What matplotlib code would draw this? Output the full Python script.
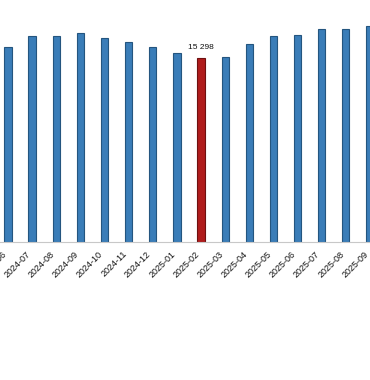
import matplotlib.pyplot as plt
import numpy as np

months = ["2024-06", "2024-07", "2024-08", "2024-09", "2024-10", "2024-11",
          "2024-12", "2025-01", "2025-02", "2025-03", "2025-04", "2025-05",
          "2025-06", "2025-07", "2025-08", "2025-09"]
values = [16210, 17070, 17070, 17290, 16930, 16570, 16130, 15650,
          15298, 15380, 16380, 17040, 17150, 17650, 17630, 17900]
highlight = "2025-02"

blue = "#3a7db8"
blue_edge = "#24557f"
red = "#b01c1c"
red_edge = "#6e1010"

fig = plt.figure(figsize=(3.7, 3.8), dpi=100)
ax = fig.add_axes([0, 0.3624, 1, 0.6376])

x = np.arange(len(months))
face = [red if m == highlight else blue for m in months]
edge = [red_edge if m == highlight else blue_edge for m in months]
ax.bar(x, values, width=0.3, color=face, edgecolor=edge, linewidth=0.8, zorder=2)

# label on the highlighted month
i = months.index(highlight)
ax.annotate(f"{values[i]:,}".replace(",", " "), (x[i], values[i]),
            xytext=(0, 5), textcoords="offset points", ha="center", va="bottom",
            fontsize=6, family="Liberation Sans", color="#111111")

ax.set_xlim(-0.33, 14.92)
ax.set_ylim(0, 20060)
ax.set_yticks([])
ax.set_xticks(x)
ax.set_xticklabels(months, rotation=45, ha="right", fontsize=6.5,
                   family="Liberation Sans", color="#111111")
ax.tick_params(axis="x", length=0, pad=5)

for s in ["top", "left", "right"]:
    ax.spines[s].set_visible(False)
ax.spines["bottom"].set_color("#c8c8c8")
ax.spines["bottom"].set_linewidth(0.8)

fig.savefig("out.png", dpi=100)
